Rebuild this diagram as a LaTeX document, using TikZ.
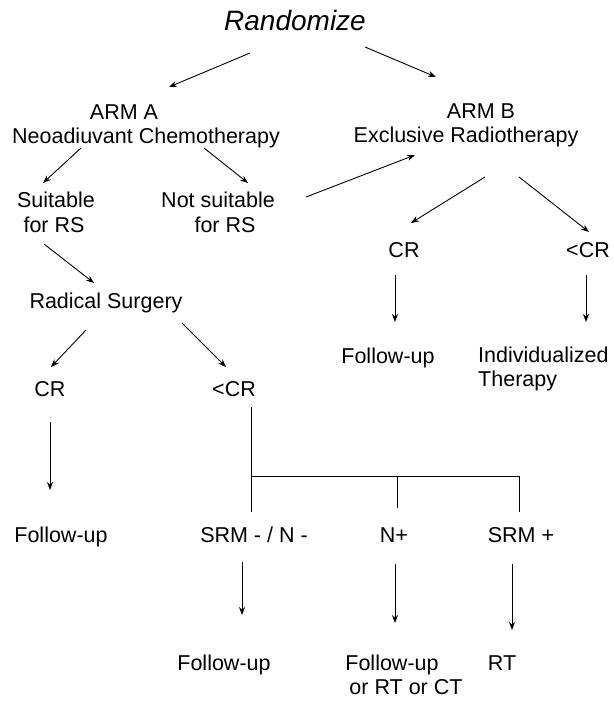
\documentclass[tikz,border=0pt]{standalone}
\usepackage{fontspec}
\setmainfont{Liberation Sans}
\usetikzlibrary{arrows.meta,calc}
\tikzset{
  txt/.style={inner sep=0pt, anchor=base, font=\fontsize{21.5}{24.5}\selectfont},
  txtw/.style={txt, anchor=base west},
  title/.style={inner sep=0pt, anchor=base, font=\fontsize{28}{32}\selectfont\itshape},
  arr/.style={line width=0.9pt, -{Stealth[length=8pt,width=6pt]}},
  ln/.style={line width=0.9pt}
}
\begin{document}
\begin{tikzpicture}[x=1pt,y=-1pt]
\useasboundingbox (0,0) rectangle (613,701);
% nodes
\node[title] (rand) at (295,31) {Randomize};
\node[txt] (armA) at (124,119) {ARM A};
\node[txt] (neo) at (146,143) {Neoadiuvant Chemotherapy};
\node[txt] (armB) at (481,118) {ARM B};
\node[txt] (excl) at (466,142) {Exclusive Radiotherapy};
\node[txt] (suit1) at (56,207) {Suitable};
\node[txt] (suit2) at (54,232) {for RS};
\node[txt] (nots1) at (218,207) {Not suitable};
\node[txt] (nots2) at (225,232) {for RS};
\node[txt] (crB) at (404,257) {CR};
\node[txt] (lcrB) at (588,257) {<CR};
\node[txt] (fuB) at (388,363) {Follow-up};
\node[txtw] (ind1) at (478,362) {Individualized};
\node[txtw] (ind2) at (478,386) {Therapy};
\node[txt] (rad) at (106,308) {Radical Surgery};
\node[txt] (crA) at (50,396) {CR};
\node[txt] (lcrA) at (234,396) {<CR};
\node[txt] (fuA) at (61,542) {Follow-up};
\node[txt] (srmn) at (254,542) {SRM - / N -};
\node[txt] (np) at (394,542) {N+};
\node[txt] (srmp) at (521,542) {SRM +};
\node[txt] (fu1) at (224,670) {Follow-up};
\node[txt] (fu2a) at (392,670) {Follow-up};
\node[txt] (fu2b) at (406,694) {or RT or CT};
\node[txt] (rt) at (502,670) {RT};
% connectors
\draw[arr] ($(rand.base)+(-45,22)$) -- ($(armA.base)+(45,-32)$);
\draw[arr] ($(rand.base)+(70,16)$) -- ($(armB.base)+(-45,-41)$);
\draw[arr] ($(neo.base)+(-65,5)$) -- ($(suit1.base)+(-13,-24)$);
\draw[arr] ($(neo.base)+(58,5)$) -- ($(nots1.base)+(30,-24)$);
\draw[arr] ($(nots1.base)+(88,-10)$) -- ($(excl.base)+(-51,13)$);
\draw[arr] ($(excl.base)+(19,35)$) -- ($(crB.base)+(7,-34)$);
\draw[arr] ($(excl.base)+(53,35)$) -- ($(lcrB.base)+(1,-25)$);
\draw[arr] ($(crB.base)+(-9,18)$) -- ($(fuB.base)+(7,-41)$);
\draw[arr] ($(lcrB.base)+(-2,18)$) -- ($(ind1.base west)+(108,-40)$);
\draw[arr] ($(suit2.base)+(-10,12)$) -- ($(rad.base)+(-12,-25)$);
\draw[arr] ($(rad.base)+(-20,22)$) -- ($(crA.base)+(1,-29)$);
\draw[arr] ($(rad.base)+(76,15)$) -- ($(lcrA.base)+(-8,-29)$);
\draw[arr] ($(crA.base)+(0,26)$) -- ($(fuA.base)+(-11,-52)$);
% branch from <CR
\coordinate (jn) at ($(lcrA.base)+(17,80)$);
\draw[ln] ($(lcrA.base)+(17,11)$) -- ($(srmn.base)+(-3,-30)$);
\draw[ln] (jn) -| ($(srmp.base)+(-2,-30)$);
\draw[ln] ($(np.base)+(3,-66)$) -- ($(np.base)+(3,-34)$);
\draw[arr] ($(srmn.base)+(-12,20)$) -- ($(fu1.base)+(18,-55)$);
\draw[arr] ($(np.base)+(1,22)$) -- ($(fu2a.base)+(3,-47)$);
\draw[arr] ($(srmp.base)+(-9,22)$) -- ($(rt.base)+(10,-40)$);
\end{tikzpicture}
\end{document}
